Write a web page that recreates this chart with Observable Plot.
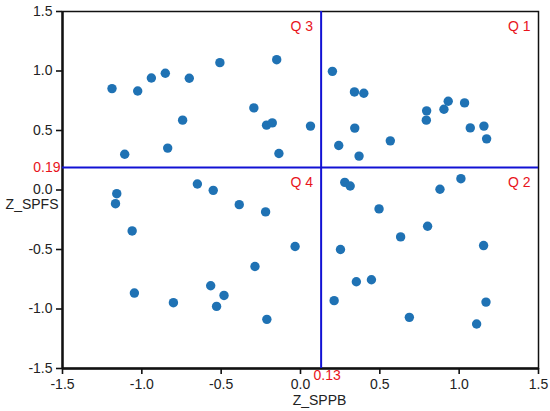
<!DOCTYPE html>
<html><head><meta charset="utf-8">
<script src="https://cdn.jsdelivr.net/npm/d3@7"></script>
<script src="https://cdn.jsdelivr.net/npm/@observablehq/plot@0.6"></script>
<style>body{margin:0;background:#fff}</style>
</head><body><div id="chart"></div>
<script>
const zSPPB = [
  -1.188,-1.108,-1.026,-0.940,-0.852,-0.837,-0.743,-0.701,-0.508,-0.294,-0.214,-0.178,-0.150,-0.136,
  0.063,0.201,0.241,0.340,0.399,0.342,0.369,0.566,0.795,0.793,0.904,0.931,1.034,1.070,1.156,1.173,
  0.279,0.313,1.011,0.879,
  -1.158,-1.166,-0.650,-0.550,-0.386,-0.220,-1.061,-0.287,-0.566,-0.482,-0.529,-1.047,-0.801,-0.212,
  -0.034,0.252,0.495,0.801,0.631,1.154,0.352,0.447,0.212,1.169,0.686,1.110
];
const zSPFS = [
  0.852,0.300,0.832,0.941,0.981,0.352,0.587,0.939,1.070,0.690,0.545,0.564,1.095,0.307,
  0.537,0.997,0.374,0.824,0.813,0.520,0.285,0.413,0.665,0.587,0.679,0.746,0.732,0.522,0.537,0.430,
  0.064,0.034,0.095,0.006,
  -0.031,-0.115,0.050,-0.003,-0.123,-0.184,-0.344,-0.643,-0.805,-0.886,-0.978,-0.866,-0.947,-1.087,
  -0.475,-0.500,-0.159,-0.305,-0.394,-0.467,-0.771,-0.754,-0.930,-0.942,-1.070,-1.126
];
const axisTicks = [-1.5, -1.0, -0.5, 0.0, 0.5, 1.0, 1.5];
const cutX = 0.13;
const cutY = 0.19;
const quadrants = [
  {label: "Q 1", right: true, top: true},
  {label: "Q 2", right: true, top: false},
  {label: "Q 3", right: false, top: true},
  {label: "Q 4", right: false, top: false}
];
const xLabel = "Z_SPPB";
const yLabel = "Z_SPFS";

const points = zSPPB.map((x, i) => ({x, y: zSPFS[i]}));
const fmt = d => d.toFixed(1);
const red = "#e8141c";
const blue = "#1212d4";

const chart = Plot.plot({
  width: 550,
  height: 411,
  marginLeft: 62,
  marginRight: 12,
  marginTop: 11,
  marginBottom: 43,
  style: {fontFamily: "'Liberation Sans', Arial, sans-serif", fontSize: "14px", color: "#222", background: "#fff"},
  x: {domain: [-1.5, 1.5]},
  y: {domain: [-1.5, 1.5]},
  marks: [
    Plot.frame({stroke: "#111", strokeWidth: 1.5}),
    Plot.ruleX([-1.5], {stroke: "#111", strokeWidth: 2.4}),
    Plot.ruleY([-1.5], {stroke: "#111", strokeWidth: 2.4}),
    Plot.axisX({ticks: axisTicks, tickFormat: fmt, tickSize: 6, tickPadding: 5, stroke: "#111", strokeWidth: 1.6, label: null}),
    Plot.axisY({ticks: axisTicks, tickFormat: fmt, tickSize: 6, tickPadding: 4, stroke: "#111", strokeWidth: 1.6, label: null}),
    Plot.ruleX([cutX], {stroke: blue, strokeWidth: 2}),
    Plot.ruleY([cutY], {stroke: blue, strokeWidth: 2}),
    Plot.dot(points, {x: "x", y: "y", r: 4.7, fill: "#1f72b4", stroke: "none"}),
    Plot.text(quadrants, {
      x: d => d.right ? 1.5 : cutX,
      y: d => d.top ? 1.5 : cutY,
      text: "label", textAnchor: "end", dx: -8, dy: 10, lineAnchor: "top",
      fill: red
    }),
    Plot.text([cutY], {x: -1.5, y: d => d, text: d => d.toFixed(2), textAnchor: "end", dx: -2, fill: red}),
    Plot.text([cutX], {x: d => d, y: -1.5, text: d => d.toFixed(2), textAnchor: "middle", dx: 6, dy: 7, fill: red}),
    Plot.text([xLabel], {frameAnchor: "bottom", text: d => d, dx: 19, dy: 36, fill: "#222"}),
    Plot.text([yLabel], {frameAnchor: "left", text: d => d, textAnchor: "end", dx: -4, dy: 15, fill: "#222"})
  ]
});
document.getElementById("chart").appendChild(chart);
</script>
</body></html>
